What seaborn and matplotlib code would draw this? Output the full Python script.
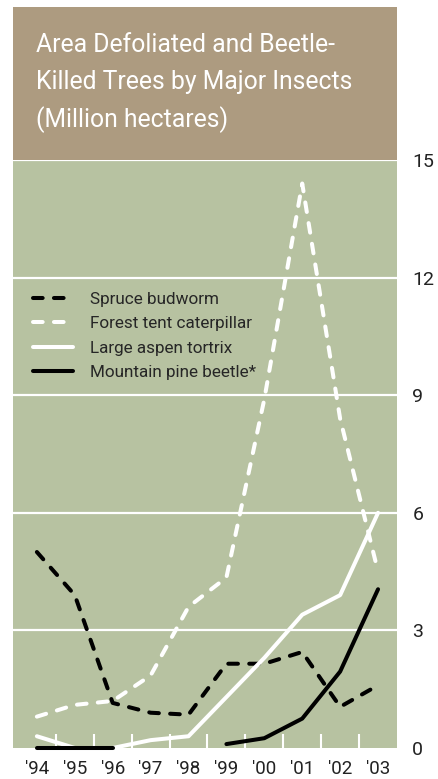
import numpy as np
import pandas as pd
import seaborn as sns
import matplotlib.pyplot as plt
from matplotlib.lines import Line2D
from matplotlib.patches import Rectangle
import matplotlib.ticker as ticker

# データ（百万ヘクタール）
years = [1994, 1995, 1996, 1997, 1998, 1999, 2000, 2001, 2002, 2003]
year_labels = ["'94", "'95", "'96", "'97", "'98", "'99", "'00", "'01", "'02", "'03"]
spruce_budworm = [5.0, 3.9, 1.15, 0.9, 0.85, 2.15, 2.15, 2.45, 1.05, 1.6]
forest_tent_caterpillar = [0.8, 1.1, 1.2, 1.85, 3.6, 4.35, 8.9, 14.4, 8.4, 4.5]
large_aspen_tortrix = [0.3, 0.0, 0.0, 0.2, 0.3, 1.3, 2.3, 3.4, 3.9, 6.0]
mountain_pine_beetle = [0.0, 0.0, 0.0, np.nan, np.nan, 0.1, 0.25, 0.75, 1.95, 4.05]
y_ticks = [0, 3, 6, 9, 12, 15]
title_lines = ['Area Defoliated and Beetle-', 'Killed Trees by Major Insects', '(Million hectares)']

TAN = '#ad9b80'
GREEN = '#b7c2a1'
FONT = ['Roboto', 'DejaVu Sans']


def to_frame(values):
    df = pd.DataFrame({'year': years, 'value': values})
    # 欠損値で線を分割する
    df['seg'] = df['value'].isna().cumsum()
    return df.dropna()


sns.set_style('white')
plt.rcParams['font.family'] = FONT

fig = plt.figure(figsize=(4.38, 7.79), dpi=100)
ax = fig.add_axes([13 / 438, 31 / 779, 384 / 438, 588 / 779])
ax.set_facecolor(GREEN)

series = [
    ('Spruce budworm', spruce_budworm, 'black', (0, (2.4, 2.8))),
    ('Forest tent caterpillar', forest_tent_caterpillar, 'white', (0, (2.4, 2.8))),
    ('Large aspen tortrix', large_aspen_tortrix, 'white', '-'),
    ('Mountain pine beetle*', mountain_pine_beetle, 'black', '-'),
]

for name, vals, color, ls in series:
    sns.lineplot(data=to_frame(vals), x='year', y='value', units='seg', estimator=None,
                 color=color, linestyle=ls, linewidth=2.9, ax=ax,
                 dash_capstyle='round', solid_capstyle='round', clip_on=False, zorder=3)

ax.set_xlim(1993.37, 2003.5)
ax.set_ylim(0, 15)
ax.set_xlabel('')
ax.set_ylabel('')

# Y軸は右側、白いグリッド線
ax.yaxis.tick_right()
ax.set_yticks(y_ticks)
ax.set_yticklabels([str(t) for t in y_ticks])
ax.tick_params(axis='y', length=0, pad=11, labelsize=14, labelcolor='#222222')
for t in y_ticks[1:]:
    ax.axhline(t, color='white', linewidth=1.6, zorder=1, clip_on=False)

ax.set_xticks(years)
ax.set_xticklabels(year_labels)
ax.xaxis.set_minor_locator(ticker.FixedLocator([y + 0.5 for y in years[:-1]]))
ax.tick_params(axis='x', which='major', length=0, pad=9, labelsize=13.5, labelcolor='#222222')
ax.tick_params(axis='x', which='minor', direction='in', length=10, width=1.5, color='white')
ax.xaxis.set_tick_params(which='minor', bottom=True)

for s in ax.spines.values():
    s.set_visible(False)

handles = [Line2D([0], [0], color=c, linestyle=ls, linewidth=2.9,
                  dash_capstyle='round', solid_capstyle='round')
           for _, _, c, ls in series]
ax.legend(handles, [n for n, _, _, _ in series], loc='upper left',
          bbox_to_anchor=(0.035, 0.787), frameon=False, fontsize=12.3,
          handlelength=2.3, handletextpad=1.0, labelspacing=0.55, borderaxespad=0)

# タイトルの箱
fig.patches.append(Rectangle((13 / 438, 1 - 160 / 779), 384 / 438, 153 / 779,
                             transform=fig.transFigure, facecolor=TAN, edgecolor='none'))
for i, line in enumerate(title_lines):
    fig.text(36 / 438, 1 - (52 + 37.5 * i) / 779, line,
             color='white', fontsize=17.8, va='baseline', ha='left')

fig.savefig('out.png', dpi=100)
